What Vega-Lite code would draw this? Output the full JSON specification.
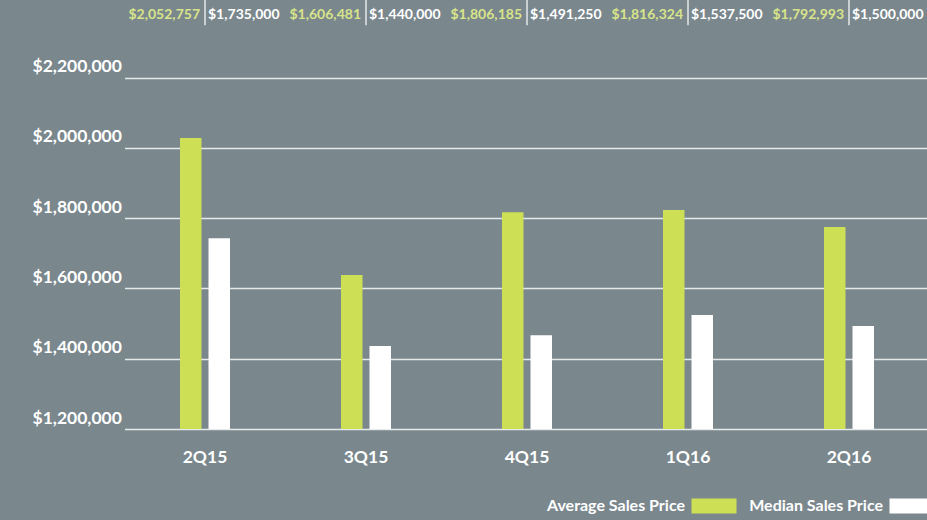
{
  "$schema": "https://vega.github.io/schema/vega-lite/v6.json",
  "width": 913,
  "height": 429,
  "autosize": {"type": "none"},
  "padding": {"left": 14, "top": 0, "right": 0, "bottom": 91},
  "background": "#7a878d",
  "config": {"view": {"stroke": null}, "font": "Lato"},
  "data": {
    "values": [
      {"quarter": "2Q15", "series": "Average Sales Price", "value": 2028000, "label": "$2,052,757"},
      {"quarter": "2Q15", "series": "Median Sales Price", "value": 1743000, "label": "$1,735,000"},
      {"quarter": "3Q15", "series": "Average Sales Price", "value": 1638000, "label": "$1,606,481"},
      {"quarter": "3Q15", "series": "Median Sales Price", "value": 1436000, "label": "$1,440,000"},
      {"quarter": "4Q15", "series": "Average Sales Price", "value": 1817000, "label": "$1,806,185"},
      {"quarter": "4Q15", "series": "Median Sales Price", "value": 1467000, "label": "$1,491,250"},
      {"quarter": "1Q16", "series": "Average Sales Price", "value": 1823000, "label": "$1,816,324"},
      {"quarter": "1Q16", "series": "Median Sales Price", "value": 1524000, "label": "$1,537,500"},
      {"quarter": "2Q16", "series": "Average Sales Price", "value": 1775000, "label": "$1,792,993"},
      {"quarter": "2Q16", "series": "Median Sales Price", "value": 1493000, "label": "$1,500,000"}
    ]
  },
  "encoding": {
    "x": {
      "field": "quarter",
      "type": "nominal",
      "sort": ["2Q15", "3Q15", "4Q15", "1Q16", "2Q16"],
      "scale": {"paddingInner": 0, "paddingOuter": 0, "range": [110.5, 915.5]},
      "axis": {
        "title": null,
        "domain": false,
        "ticks": false,
        "labelAngle": 0,
        "labelPadding": 19,
        "labelColor": "white",
        "labelFont": "Lato",
        "labelFontSize": 17.5,
        "labelFontWeight": "bold"
      }
    }
  },
  "layer": [
    {
      "mark": {"type": "bar"},
      "encoding": {
        "y": {
          "field": "value",
          "type": "quantitative",
          "scale": {"domain": [1200000, 2420500], "nice": false, "zero": false},
          "axis": {
            "title": null,
            "values": [1200000, 1400000, 1600000, 1800000, 2000000, 2200000],
            "format": "$,.0f",
            "domain": false,
            "ticks": false,
            "tickSize": 0,
            "labelAlign": "left",
            "labelPadding": -18,
            "labelBaseline": "alphabetic",
            "labelOffset": -6,
            "labelColor": "white",
            "labelFont": "Lato",
            "labelFontSize": 17.5,
            "labelFontWeight": "bold",
            "grid": true,
            "gridColor": "#e6e9ea",
            "gridWidth": 1.5,
            "gridOpacity": 1
          }
        },
        "y2": {"datum": 1200000},
        "xOffset": {
          "field": "series",
          "type": "nominal",
          "scale": {"paddingInner": 0.2456, "paddingOuter": 0, "range": [55.5, 105.5]}
        },
        "color": {
          "field": "series",
          "type": "nominal",
          "scale": {"domain": ["Average Sales Price", "Median Sales Price"], "range": ["#cde055", "#ffffff"]},
          "legend": {
            "title": null,
            "orient": "none",
            "legendX": 670,
            "legendY": 498,
            "direction": "horizontal",
            "symbolType": "M-3,-1H3V1H-3Z",
            "symbolSize": 225,
            "symbolOffset": 22,
            "symbolStrokeWidth": 0,
            "symbolOpacity": 1,
            "labelAlign": "right",
            "labelOffset": -37,
            "labelColor": "white",
            "labelFont": "Lato",
            "labelFontSize": 16,
            "labelFontWeight": "bold",
            "columnPadding": 12
          }
        }
      }
    },
    {
      "transform": [{"filter": "datum.series === 'Average Sales Price'"}],
      "mark": {"type": "text", "align": "right", "baseline": "middle", "dx": -5, "font": "Lato", "fontSize": 14, "fontWeight": "bold", "color": "#d8e48a"},
      "encoding": {
        "y": {"datum": 2377800},
        "text": {"field": "label"}
      }
    },
    {
      "transform": [{"filter": "datum.series === 'Median Sales Price'"}],
      "mark": {"type": "text", "align": "left", "baseline": "middle", "dx": 3, "font": "Lato", "fontSize": 14, "fontWeight": "bold", "color": "#ffffff"},
      "encoding": {
        "y": {"datum": 2377800},
        "text": {"field": "label"}
      }
    },
    {
      "transform": [{"filter": "datum.series === 'Average Sales Price'"}],
      "mark": {"type": "rule", "color": "#e6e9ea", "strokeWidth": 1.5},
      "encoding": {
        "y": {"datum": 2420500},
        "y2": {"datum": 2349000}
      }
    }
  ]
}
